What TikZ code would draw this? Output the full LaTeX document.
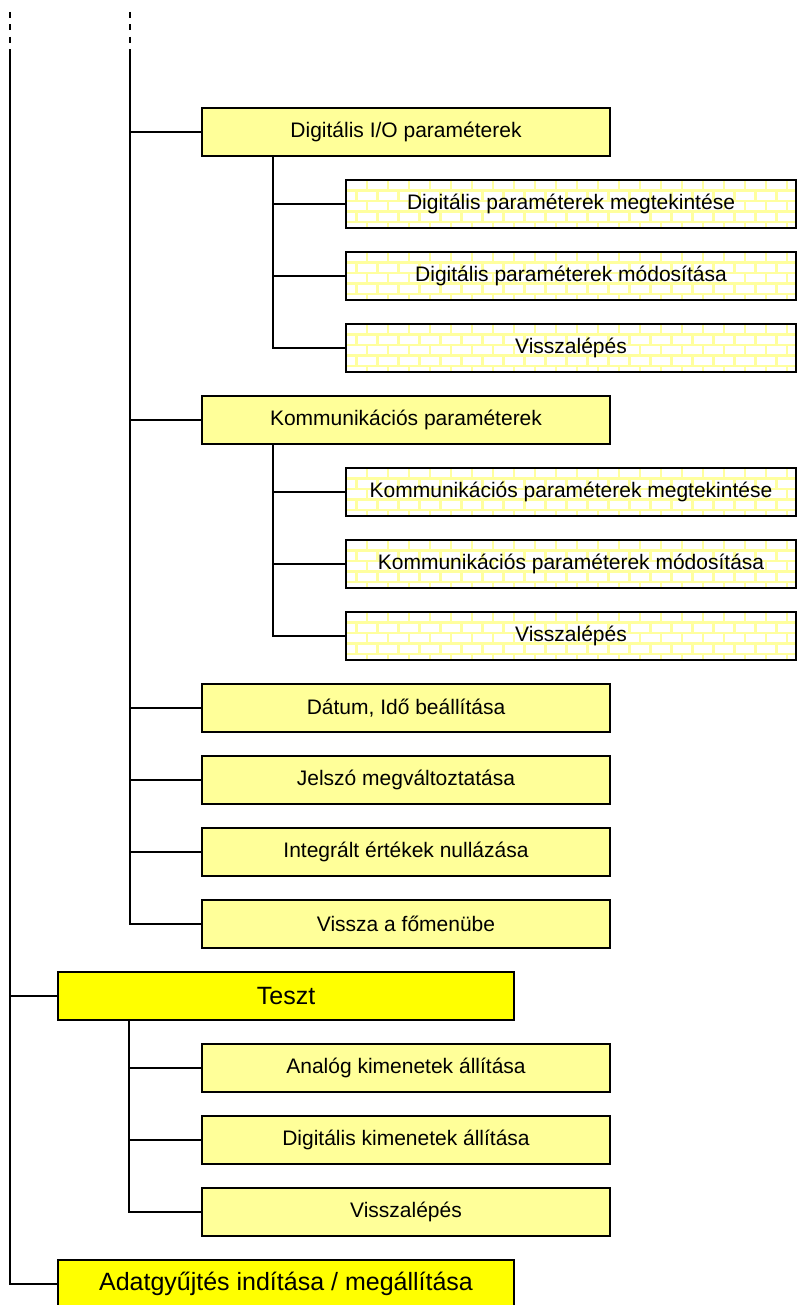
\documentclass[tikz,border=0pt]{standalone}
\usepackage{fontspec}
\setmainfont{Liberation Sans}
\usetikzlibrary{calc}
\definecolor{paley}{HTML}{FFFF99}
\definecolor{brighty}{HTML}{FFFF00}
\definecolor{mortar}{HTML}{FFFF9E}
\begin{document}
\begin{tikzpicture}[x=1pt,y=-1pt,
  conn/.style={line width=2pt},
  dashconn/.style={line width=2pt, dash pattern=on 6pt off 6.5pt},
  box/.style={draw, line width=2pt, inner sep=0pt, font=\fontsize{21}{25}\selectfont},
  lvtwo/.style={box, fill=paley, minimum width=408pt, minimum height=48pt},
  lvone/.style={box, fill=brighty, minimum width=456pt, minimum height=48pt, font=\fontsize{25}{30}\selectfont},
  brickbox/.style={box, minimum width=450pt, minimum height=48pt,
    path picture={
      \fill[mortar] (path picture bounding box.north west) rectangle (path picture bounding box.south east);
      \foreach \r [evaluate=\r as \off using {mod(\r,2)*10.5}] in {0,...,4}{
        \foreach \c in {-1,...,22}{
          \fill[white] ($(path picture bounding box.north west)+(\c*21+\off+1.3,\r*10.5+1.3)$) rectangle ++(18.4,7.9);
        }
      }
    }}
]
\useasboundingbox (0,0) rectangle (797,1305);

% trunk coordinates
\coordinate (ta) at (10,12);
\coordinate (tam) at (10,50);
\coordinate (tb) at (130,12);
\coordinate (tbm) at (130,50);

% level-two boxes
\node[lvtwo] (dio) at (406,132) {Digitális I/O paraméterek};
\node[brickbox] (dmeg) at (571,204) {Digitális paraméterek megtekintése};
\node[brickbox] (dmod) at (571,276) {Digitális paraméterek módosítása};
\node[brickbox] (dvis) at (571,348) {Visszalépés};
\node[lvtwo] (komm) at (406,420) {Kommunikációs paraméterek};
\node[brickbox] (kmeg) at (571,492) {Kommunikációs paraméterek megtekintése};
\node[brickbox] (kmod) at (571,564) {Kommunikációs paraméterek módosítása};
\node[brickbox] (kvis) at (571,636) {Visszalépés};
\node[lvtwo] (datum) at (406,708) {Dátum, Idő beállítása};
\node[lvtwo] (jelszo) at (406,780) {Jelszó megváltoztatása};
\node[lvtwo] (integ) at (406,852) {Integrált értékek nullázása};
\node[lvtwo] (fomenu) at (406,924) {Vissza a főmenübe};
\node[lvone] (teszt) at (286,996) {Teszt};
\node[lvtwo] (analog) at (406,1068) {Analóg kimenetek állítása};
\node[lvtwo] (digki) at (406,1140) {Digitális kimenetek állítása};
\node[lvtwo] (tvis) at (406,1212) {Visszalépés};
\node[lvone] (adat) at (286,1284) {Adatgyűjtés indítása / megállítása};

% sub-trunk coordinates
\coordinate (dios) at ($(dio.south west)+(72,0)$);
\coordinate (komms) at ($(komm.south west)+(72,0)$);
\coordinate (teszts) at ($(teszt.south west)+(72,0)$);

% dashed tops
\draw[dashconn] (ta) -- (tam);
\draw[dashconn] (tb) -- (tbm);

% main trunk
\draw[conn] (tam) |- (adat.west);
\draw[conn] (tam |- teszt.west) -- (teszt.west);

% second trunk
\draw[conn] (tbm) |- (fomenu.west);
\foreach \n in {dio,komm,datum,jelszo,integ}{
  \draw[conn] (tbm |- \n.west) -- (\n.west);
}

% sub trunks
\draw[conn] (dios) |- (dvis.west);
\draw[conn] (dios |- dmeg.west) -- (dmeg.west);
\draw[conn] (dios |- dmod.west) -- (dmod.west);
\draw[conn] (komms) |- (kvis.west);
\draw[conn] (komms |- kmeg.west) -- (kmeg.west);
\draw[conn] (komms |- kmod.west) -- (kmod.west);
\draw[conn] (teszts) |- (tvis.west);
\draw[conn] (teszts |- analog.west) -- (analog.west);
\draw[conn] (teszts |- digki.west) -- (digki.west);
\end{tikzpicture}
\end{document}
